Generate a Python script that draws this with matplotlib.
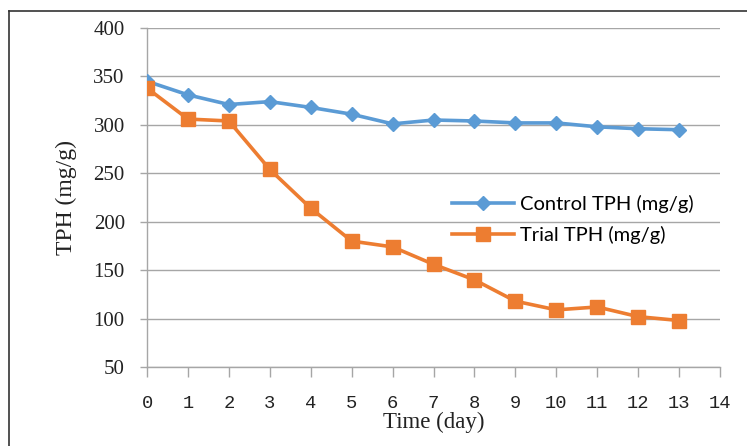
import matplotlib
matplotlib.use('Agg')
import matplotlib.pyplot as plt
from matplotlib.lines import Line2D

# Data
days = [0, 1, 2, 3, 4, 5, 6, 7, 8, 9, 10, 11, 12, 13]
control_tph = [345, 331, 321, 324, 318, 311, 301, 305, 304, 302, 302, 298, 296, 295]
trial_tph = [338, 306, 304, 254, 214, 180, 174, 156, 140, 118, 109, 112, 102, 98]

x_ticks = list(range(0, 15))
y_ticks = [50, 100, 150, 200, 250, 300, 350, 400]

blue = '#5B9BD5'
orange = '#ED7D31'
grid_gray = '#A6A6A6'

fig = plt.figure(figsize=(7.47, 4.46), dpi=100)
ax = fig.add_axes([0.1968, 0.1771, 0.7671, 0.7601])

ax.plot(days, control_tph, color=blue, lw=2.6, marker='D', ms=7,
        label='Control TPH (mg/g)', zorder=3)
ax.plot(days, trial_tph, color=orange, lw=2.6, marker='s', ms=9.5,
        label='Trial TPH (mg/g)', zorder=4)

ax.set_xlim(0, 14)
ax.set_ylim(50, 400)
ax.set_xticks(x_ticks)
ax.set_yticks(y_ticks)
ax.yaxis.grid(True, color=grid_gray, lw=1)
ax.set_axisbelow(True)

for s in ['top', 'right']:
    ax.spines[s].set_visible(False)
for s in ['left', 'bottom']:
    ax.spines[s].set_color(grid_gray)
    ax.spines[s].set_linewidth(1)

ax.tick_params(axis='x', direction='out', length=7, width=1, color=grid_gray, pad=13)
ax.tick_params(axis='y', direction='out', length=5, width=1, color=grid_gray, pad=11)
for lab in ax.get_xticklabels():
    lab.set_fontfamily('Liberation Mono')
    lab.set_fontsize(13.5)
    lab.set_color('#222222')
for lab in ax.get_yticklabels():
    lab.set_fontfamily('Liberation Serif')
    lab.set_fontsize(15)
    lab.set_color('#222222')

ax.set_ylabel('TPH (mg/g)', fontfamily='Liberation Serif', fontsize=17,
              color='#222222', labelpad=12)
ax.set_xlabel('Time (day)', fontfamily='Liberation Serif', fontsize=16.5,
              color='#222222', labelpad=0)

ax.legend(loc='center left', bbox_to_anchor=(0.50, 0.435), frameon=False,
          prop={'family': 'Lato', 'size': 14.5}, handlelength=3.1,
          handletextpad=0.3, labelspacing=0.65)

# outer frame (left and top edges only)
fig.add_artist(Line2D([0.012, 0.012], [0.0, 0.975], transform=fig.transFigure,
                      color='#333333', lw=1.2))
fig.add_artist(Line2D([0.012, 1.0], [0.975, 0.975], transform=fig.transFigure,
                      color='#333333', lw=1.2))

fig.savefig('out.png', dpi=100, facecolor='white')
